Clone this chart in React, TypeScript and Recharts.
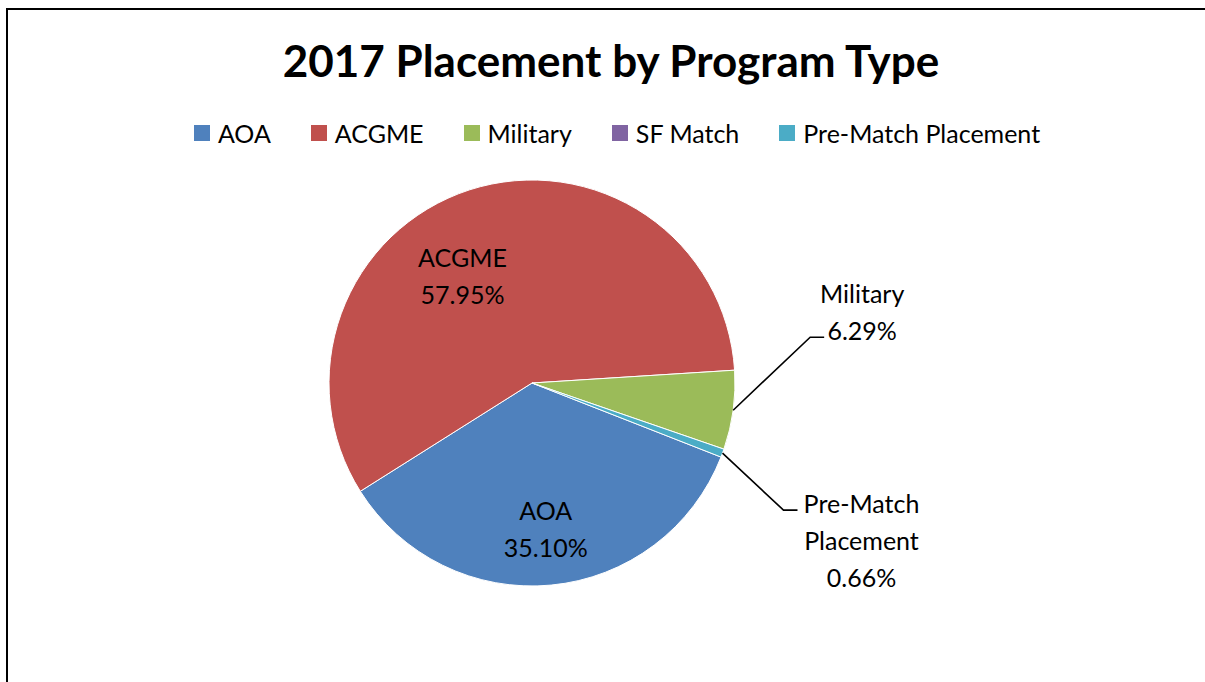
import React from "react";
import { PieChart, Pie, Cell } from "recharts";

const programs = ["AOA", "ACGME", "Military", "SF Match", "Pre-Match Placement"];
const shares = [35.1, 57.95, 6.29, 0, 0.66];
const colors = ["#4F81BD", "#C0504D", "#9BBB59", "#8064A2", "#4BACC6"];

const data = programs.map((name, i) => ({ name, value: shares[i] }));

const FONT = "Lato, Carlito, Calibri, sans-serif";
const RAD = Math.PI / 180;

// inner labels: shift from mid angle (deg) and radius factor
const innerPlace: Record<string, { shift: number; r: number }> = {
  AOA: { shift: 0, r: 0.72 },
  ACGME: { shift: 15, r: 0.63 },
};

// outer labels: elbow offset from slice edge, tail length, text offset from tail end
const outerPlace: Record<string, { elbow: [number, number]; tail: number; text: [number, number] }> = {
  Military: { elbow: [77, -73], tail: 14, text: [38, -44] },
  "Pre-Match Placement": { elbow: [61, 57], tail: 14, text: [64, -7] },
};

const LINE_H = 37;
const LABEL_SIZE = 25;

const splitName = (name: string) => (name.length > 10 ? name.split(" ") : [name]);

const renderLabel = (props: any) => {
  const { cx, cy, midAngle, outerRadius, name, value } = props;
  if (!value) return null;
  const lines = [...splitName(name), value.toFixed(2) + "%"];

  if (innerPlace[name]) {
    const p = innerPlace[name];
    const a = (midAngle + p.shift) * RAD;
    const x = cx + outerRadius * p.r * Math.cos(a);
    const y = cy - outerRadius * p.r * Math.sin(a);
    const y0 = y - ((lines.length - 1) * LINE_H) / 2;
    return (
      <text x={x} y={y0} textAnchor="middle" fontFamily={FONT} fontSize={LABEL_SIZE} fill="#000">
        {lines.map((l, i) => (
          <tspan key={i} x={x} y={y0 + i * LINE_H} dominantBaseline="central">
            {l}
          </tspan>
        ))}
      </text>
    );
  }

  const o = outerPlace[name];
  if (!o) return null;
  const a = midAngle * RAD;
  const ex = cx + outerRadius * Math.cos(a);
  const ey = cy - outerRadius * Math.sin(a);
  const bx = ex + o.elbow[0];
  const by = ey + o.elbow[1];
  const tx = bx + o.tail;
  const lx = tx + o.text[0];
  const ly = by + o.text[1];
  return (
    <g>
      <polyline
        points={`${ex},${ey} ${bx},${by} ${tx},${by}`}
        fill="none"
        stroke="#000"
        strokeWidth={1.6}
      />
      <text x={lx} y={ly} textAnchor="middle" fontFamily={FONT} fontSize={LABEL_SIZE} fill="#000">
        {lines.map((l, i) => (
          <tspan key={i} x={lx} y={ly + i * LINE_H} dominantBaseline="central">
            {l}
          </tspan>
        ))}
      </text>
    </g>
  );
};

const LegendRow = () => (
  <div
    style={{
      position: "absolute",
      left: 0,
      top: 117,
      width: 1234,
      display: "flex",
      justifyContent: "center",
      alignItems: "center",
      fontFamily: FONT,
      fontSize: 25,
      lineHeight: "32px",
      color: "#000",
      whiteSpace: "nowrap",
    }}
  >
    {programs.map((p, i) => (
      <div key={p} style={{ display: "flex", alignItems: "center", marginRight: i < programs.length - 1 ? 40 : 0 }}>
        <span style={{ width: 16, height: 16, background: colors[i], marginRight: 8, display: "inline-block" }} />
        <span>{p}</span>
      </div>
    ))}
  </div>
);

export default function App() {
  return (
    <div
      style={{
        position: "absolute",
        left: 0,
        top: 0,
        width: 1205,
        height: 682,
        overflow: "hidden",
        background: "#fff",
      }}
    >
      <div
        style={{
          position: "absolute",
          left: 6,
          top: 8,
          width: 1400,
          height: 900,
          borderLeft: "2px solid #000",
          borderTop: "2px solid #000",
        }}
      />
      <div
        style={{
          position: "absolute",
          left: 0,
          top: 32,
          width: 1222,
          textAlign: "center",
          fontFamily: FONT,
          fontWeight: 700,
          fontSize: 44,
          lineHeight: "56px",
          color: "#000",
        }}
      >
        2017 Placement by Program Type
      </div>
      <LegendRow />
      <div style={{ position: "absolute", left: 0, top: 0 }}>
        <PieChart width={1205} height={682} margin={{ top: 0, right: 0, bottom: 0, left: 0 }}>
          <Pie
            data={data}
            dataKey="value"
            nameKey="name"
            cx={532}
            cy={383}
            outerRadius={203}
            startAngle={338.6}
            endAngle={-21.4}
            stroke="#fff"
            strokeWidth={1}
            label={renderLabel}
            labelLine={false}
            isAnimationActive={false}
          >
            {data.map((d, i) => (
              <Cell key={d.name} fill={colors[i]} />
            ))}
          </Pie>
        </PieChart>
      </div>
    </div>
  );
}
